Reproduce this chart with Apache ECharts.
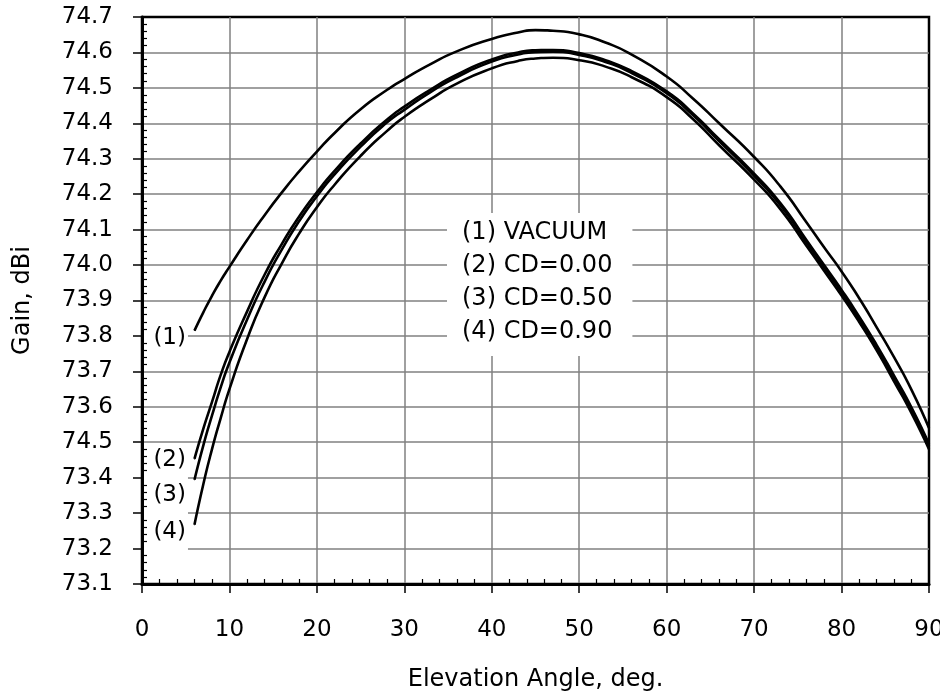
<!DOCTYPE html>
<html>
<head>
<meta charset="utf-8">
<script src="https://cdn.jsdelivr.net/npm/echarts@6/dist/echarts.min.js"></script>
<style>
html, body { margin: 0; padding: 0; background: #fff; }
#main { width: 940px; height: 691px; }
</style>
</head>
<body>
<div id="main"></div>
<script>
// ---- data ----
const angles = [6, 7, 8, 9, 10, 12, 14, 16, 18, 20, 22, 25, 28, 30, 33, 36, 40, 43, 45, 47, 50, 53, 56, 60, 63, 66, 70, 73, 76, 78, 80, 82, 84, 86, 88, 90];
const vacuum = [73.815, 73.866, 73.913, 73.956, 73.995, 74.07, 74.14, 74.205, 74.265, 74.32, 74.372, 74.44, 74.494, 74.525, 74.567, 74.603, 74.638, 74.656, 74.663, 74.661, 74.651, 74.628, 74.594, 74.532, 74.47, 74.40, 74.305, 74.222, 74.12, 74.05, 73.982, 73.907, 73.825, 73.74, 73.648, 73.54];
const cd000 = [73.453, 73.537, 73.613, 73.69, 73.755, 73.868, 73.972, 74.06, 74.138, 74.205, 74.265, 74.343, 74.41, 74.447, 74.495, 74.537, 74.58, 74.6, 74.606, 74.607, 74.598, 74.578, 74.547, 74.49, 74.428, 74.355, 74.258, 74.175, 74.07, 74.0, 73.93, 73.855, 73.775, 73.688, 73.598, 73.495];
const cd050 = [73.394, 73.49, 73.575, 73.655, 73.725, 73.845, 73.952, 74.044, 74.125, 74.194, 74.255, 74.334, 74.402, 74.438, 74.488, 74.53, 74.574, 74.594, 74.601, 74.602, 74.593, 74.573, 74.542, 74.485, 74.423, 74.35, 74.252, 74.169, 74.064, 73.994, 73.924, 73.849, 73.769, 73.682, 73.592, 73.49];
const cd090 = [73.267, 73.38, 73.48, 73.568, 73.65, 73.79, 73.908, 74.005, 74.09, 74.163, 74.226, 74.308, 74.378, 74.418, 74.468, 74.512, 74.555, 74.576, 74.583, 74.585, 74.578, 74.56, 74.53, 74.474, 74.412, 74.338, 74.241, 74.158, 74.054, 73.984, 73.914, 73.84, 73.76, 73.672, 73.582, 73.48];

const seriesNames = ['(1) VACUUM', '(2) CD=0.00', '(3) CD=0.50', '(4) CD=0.90'];
const curveTags = ['(1)', '(2)', '(3)', '(4)'];
const xMin = 0, xMax = 90, xStep = 10;
const yMin = 73.1, yMax = 74.7, yStep = 0.1;
const yTickLabels = ['73.1', '73.2', '73.3', '73.4', '74.5', '73.6', '73.7', '73.8', '73.9', '74.0', '74.1', '74.2', '74.3', '74.4', '74.5', '74.6', '74.7'];
const xTitle = 'Elevation Angle, deg.';
const yTitle = 'Gain, dBi';

// ---- styling ----
const FONT = 'DejaVu Sans';
const curves = [vacuum, cd000, cd050, cd090];
const tagOffsets = [[0, 7], [0, 1], [0, 15], [0, 7]];
const tagPadding = [[8, 2, 8, 10], [3, 2, 4, 10], [8, 2, 8, 10], [8, 2, 8, 10]];
const gridColor = '#808080';

const chart = echarts.init(document.getElementById('main'), null, { renderer: 'canvas' });

const lineSeries = curves.map((c, i) => ({
  name: seriesNames[i],
  type: 'line',
  xAxisIndex: 0,
  yAxisIndex: 0,
  data: angles.map((a, k) => [a, c[k]]),
  showSymbol: false,
  symbol: 'none',
  smooth: 0.6,
  lineStyle: { color: '#000', width: 2.6 },
  itemStyle: { color: '#000' },
  emphasis: { disabled: true },
  silent: true,
  z: 2
}));

const tagSeries = {
  type: 'scatter',
  xAxisIndex: 0,
  yAxisIndex: 0,
  symbolSize: 1,
  itemStyle: { color: '#000', opacity: 1 },
  silent: true,
  emphasis: { disabled: true },
  z: 3,
  data: curves.map((c, i) => ({
    value: [angles[0], c[0]],
    label: { offset: tagOffsets[i], padding: tagPadding[i] }
  })),
  label: {
    show: true,
    position: 'left',
    distance: 6,
    formatter: p => curveTags[p.dataIndex],
    fontFamily: FONT,
    fontSize: 23,
    color: '#000',
    opacity: 1,
    backgroundColor: '#fff'
  }
};

const option = {
  animation: false,
  backgroundColor: '#fff',
  textStyle: { fontFamily: FONT },
  grid: {
    left: 142, right: 11, top: 17, bottom: 107,
    outerBoundsMode: 'none',
    containLabel: false,
    show: true, borderColor: '#000', borderWidth: 2.5, backgroundColor: 'transparent'
  },
  legend: {
    data: seriesNames,
    orient: 'vertical',
    left: 447,
    top: 213,
    backgroundColor: '#fff',
    padding: [8, 20, 12, 10],
    icon: 'none',
    itemWidth: 0,
    itemHeight: 23,
    itemGap: 9,
    selectedMode: false,
    textStyle: { fontFamily: FONT, fontSize: 24, color: '#000', lineHeight: 23 },
    z: 5
  },
  xAxis: [
    {
      type: 'value', min: xMin, max: xMax, interval: xStep, position: 'bottom',
      axisLine: { show: false, onZero: false },
      axisTick: { show: true, inside: false, length: 9, lineStyle: { color: '#000', width: 1.5 } },
      axisLabel: { margin: 35, fontFamily: FONT, fontSize: 23, color: '#000' },
      splitLine: { show: true, showMinLine: false, showMaxLine: false, lineStyle: { color: gridColor, width: 1.5 } },
      name: xTitle, nameLocation: 'middle', nameGap: 84,
      nameTextStyle: { fontFamily: FONT, fontSize: 24, color: '#000' }
    },
    {
      type: 'value', min: xMin, max: xMax, interval: xStep, position: 'bottom', z: 10,
      axisLine: { show: true, onZero: false, lineStyle: { color: '#000', width: 3 } },
      axisTick: { show: false, inside: true },
      minorTick: { show: true, splitNumber: 5, length: 5, lineStyle: { color: '#000', width: 1.2 } },
      axisLabel: { show: false },
      splitLine: { show: false }
    }
  ],
  yAxis: [
    {
      type: 'value', min: yMin, max: yMax, interval: yStep, position: 'left',
      axisLine: { show: false, onZero: false },
      axisTick: { show: true, inside: false, length: 9, lineStyle: { color: '#000', width: 1.5 } },
      axisLabel: {
        margin: 29, fontFamily: FONT, fontSize: 23, color: '#000',
        formatter: v => yTickLabels[Math.round((v - yMin) / yStep)] || ''
      },
      splitLine: { show: true, showMinLine: false, showMaxLine: false, lineStyle: { color: gridColor, width: 1.5 } },
      name: yTitle, nameLocation: 'middle', nameGap: 107,
      nameTextStyle: { fontFamily: FONT, fontSize: 24, color: '#000' }
    },
    {
      type: 'value', min: yMin, max: yMax, interval: yStep, position: 'left', z: 10,
      axisLine: { show: true, onZero: false, lineStyle: { color: '#000', width: 3 } },
      axisTick: { show: false, inside: true },
      minorTick: { show: true, splitNumber: 5, length: 5, lineStyle: { color: '#000', width: 1.2 } },
      axisLabel: { show: false },
      splitLine: { show: false }
    }
  ],
  series: lineSeries.concat([tagSeries])
};

chart.setOption(option);
</script>
</body>
</html>
